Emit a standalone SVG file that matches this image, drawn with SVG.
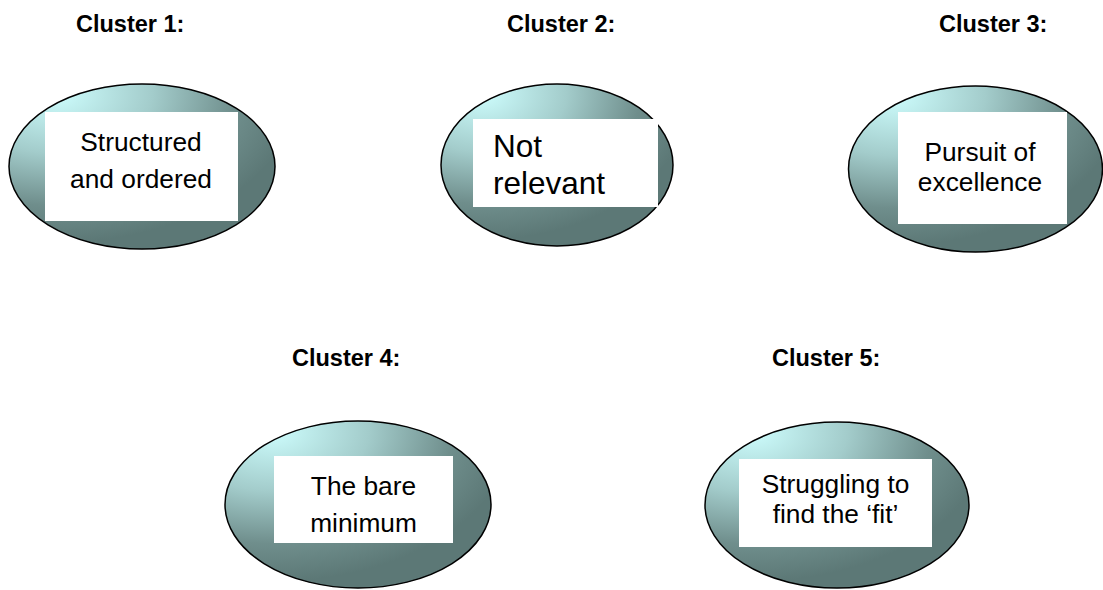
<svg xmlns="http://www.w3.org/2000/svg" width="1103" height="590" viewBox="0 0 1103 590">
<defs>
<radialGradient id="g" cx="0.18" cy="0.06" r="0.9" fx="0.18" fy="0.06">
<stop offset="0" stop-color="#cdfdfd"/>
<stop offset="0.4" stop-color="#a3cccb"/>
<stop offset="0.75" stop-color="#6f8e8c"/>
<stop offset="1" stop-color="#5c7876"/>
</radialGradient>
<style>
.ell{fill:url(#g);stroke:#000;stroke-width:1.5}
.box{fill:#fff}
.h{font-family:"Liberation Sans",Arial,sans-serif;font-weight:bold;font-size:23.5px;fill:#000}
.t{font-family:"Liberation Sans",Arial,sans-serif;font-size:26.3px;fill:#000;text-anchor:middle}
</style>
</defs>
<rect width="1103" height="590" fill="#fff"/>
<g id="headings">
<text class="h" x="76" y="32">Cluster 1:</text>
<text class="h" x="507" y="32">Cluster 2:</text>
<text class="h" x="939" y="32">Cluster 3:</text>
<text class="h" x="292" y="366">Cluster 4:</text>
<text class="h" x="772" y="366">Cluster 5:</text>
</g>
<g id="cluster1">
<ellipse class="ell" cx="142" cy="166.5" rx="133" ry="82.5"/>
<rect class="box" x="45" y="112" width="193" height="109"/>
<text class="t" x="141" y="150.5">Structured</text>
<text class="t" x="141" y="188">and ordered</text>
</g>
<g id="cluster2">
<ellipse class="ell" cx="557" cy="165" rx="116" ry="81"/>
<rect class="box" x="473" y="119" width="185" height="88"/>
<text class="t" x="493" y="157" style="text-anchor:start;font-size:31.5px">Not</text>
<text class="t" x="493" y="194" style="text-anchor:start;font-size:31.5px">relevant</text>
</g>
<g id="cluster3">
<ellipse class="ell" cx="975.5" cy="169" rx="127" ry="83"/>
<rect class="box" x="898" y="112" width="169" height="112"/>
<text class="t" x="980" y="160.5">Pursuit of</text>
<text class="t" x="980" y="190.5">excellence</text>
</g>
<g id="cluster4">
<ellipse class="ell" cx="358" cy="504.5" rx="133" ry="83.5"/>
<rect class="box" x="274" y="456" width="179" height="87"/>
<text class="t" x="363.5" y="495">The bare</text>
<text class="t" x="363.5" y="531.5">minimum</text>
</g>
<g id="cluster5">
<ellipse class="ell" cx="837" cy="505" rx="132" ry="83"/>
<rect class="box" x="739" y="459" width="193" height="88"/>
<text class="t" x="835.5" y="492.5">Struggling to</text>
<text class="t" x="835.5" y="523">find the ‘fit’</text>
</g>
<g id="connectors"/>
</svg>
